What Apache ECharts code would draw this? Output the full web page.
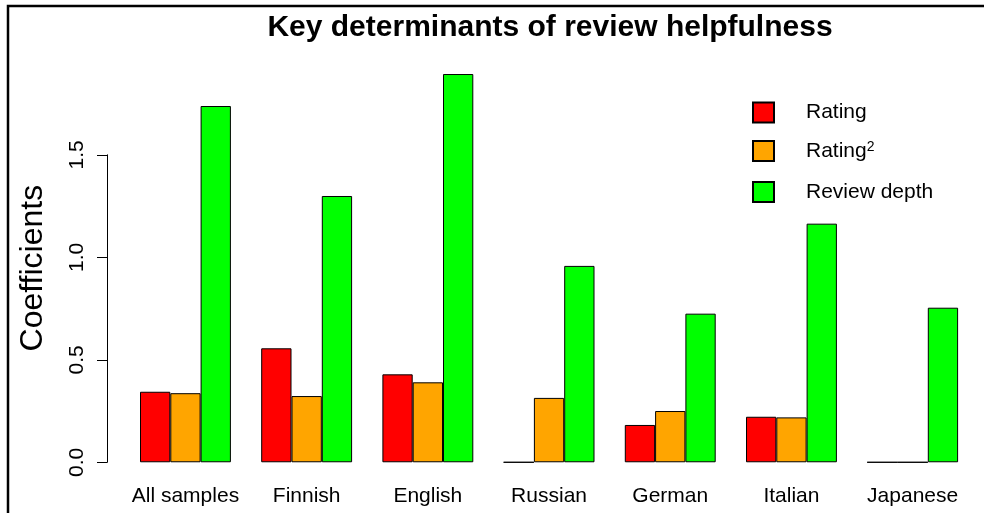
<!DOCTYPE html>
<html>
<head>
<meta charset="utf-8">
<script src="https://cdn.jsdelivr.net/npm/echarts@6/dist/echarts.min.js"></script>
<style>html,body{margin:0;padding:0;background:#fff;}#c{width:984px;height:513px;}</style>
</head>
<body>
<div id="c"></div>
<script>
const categories = ['All samples', 'Finnish', 'English', 'Russian', 'German', 'Italian', 'Japanese'];
const seriesNames = ['Rating', 'Rating²', 'Review depth'];
const rating = [0.344, 0.556, 0.429, 0, 0.182, 0.222, 0];
const ratingSq = [0.337, 0.323, 0.390, 0.314, 0.250, 0.219, 0];
const reviewDepth = [1.738, 1.299, 1.894, 0.958, 0.725, 1.164, 0.754];
const yTickLabels = ['0.0', '0.5', '1.0', '1.5'];
const colors = ['#FF0000', '#FFA500', '#00FF00'];

const FONT = 'Liberation Sans, Arial, Helvetica, sans-serif';
const dataMax = Math.max(...rating, ...ratingSq, ...reviewDepth);
const pad = dataMax * 0.04;

const chart = echarts.init(document.getElementById('c'), null, {renderer: 'canvas'});
const values = [rating, ratingSq, reviewDepth];

chart.setOption({
  animation: false,
  backgroundColor: '#fff',
  title: {
    text: 'Key determinants of review helpfulness',
    left: 545,
    textAlign: 'center',
    top: 8,
    textStyle: {fontFamily: FONT, fontSize: 30, fontWeight: 'bold', color: '#000'}
  },
  legend: {
    data: seriesNames,
    orient: 'vertical',
    left: 752,
    top: 101.5,
    padding: 0,
    itemWidth: 21,
    itemHeight: 20,
    itemGap: 16.5,
    selectedMode: false,
    icon: 'rect',
    formatter: function (name) {
      if (name === 'Rating²') return '{g|}{b|Rating}{s|2}';
      return '{g|}{b|' + name + '}';
    },
    textStyle: {
      fontFamily: FONT, fontSize: 21, color: '#000', lineHeight: 21,
      rich: {
        g: {width: 27, lineHeight: 21},
        b: {fontFamily: FONT, fontSize: 21, color: '#000', lineHeight: 21},
        s: {fontFamily: FONT, fontSize: 14, color: '#000', lineHeight: 21, verticalAlign: 'top', padding: [0, 0, 10, 0]}
      }
    }
  },
  grid: [
    {left: 124.85, width: 848.4, top: 58.5, height: 419.3, containLabel: false},
    {left: 107, width: 1, top: 462.3 - 1.5 * 205, height: 1.5 * 205, containLabel: false}
  ],
  xAxis: [
    {
      type: 'category', gridIndex: 0, data: categories,
      axisLine: {show: false}, axisTick: {show: false},
      axisLabel: {fontFamily: FONT, fontSize: 21, color: '#000', margin: 8, interval: 0}
    },
    {type: 'value', gridIndex: 1, show: false}
  ],
  yAxis: [
    {
      type: 'value', gridIndex: 0, min: -pad, max: dataMax + pad,
      axisLine: {show: false}, axisTick: {show: false}, axisLabel: {show: false},
      splitLine: {show: false},
      name: 'Coefficients', nameLocation: 'middle', nameGap: 76,
      nameTextStyle: {fontFamily: FONT, fontSize: 32, color: '#000'}
    },
    {
      type: 'value', gridIndex: 1, min: 0, max: 1.5, interval: 0.5,
      axisLine: {show: true, lineStyle: {color: '#000', width: 1}},
      axisTick: {show: true, length: 10, lineStyle: {color: '#000', width: 1}},
      axisLabel: {
        rotate: 90, margin: 19, fontFamily: FONT, fontSize: 21, color: '#000',
        formatter: function (v) { return yTickLabels[Math.round(v / 0.5)]; }
      },
      splitLine: {show: false}
    }
  ],
  graphic: [{
    type: 'rect', silent: true,
    shape: {x: 8, y: 6, width: 1200, height: 1000},
    style: {fill: 'none', stroke: '#000', lineWidth: 2.5}
  }],
  series: seriesNames.map(function (n, i) {
    return {
      name: n, type: 'bar', xAxisIndex: 0, yAxisIndex: 0,
      data: values[i], barWidth: '25%', barGap: '0%',
      itemStyle: {color: colors[i], borderColor: '#000', borderWidth: 1}
    };
  })
});
</script>
</body>
</html>
